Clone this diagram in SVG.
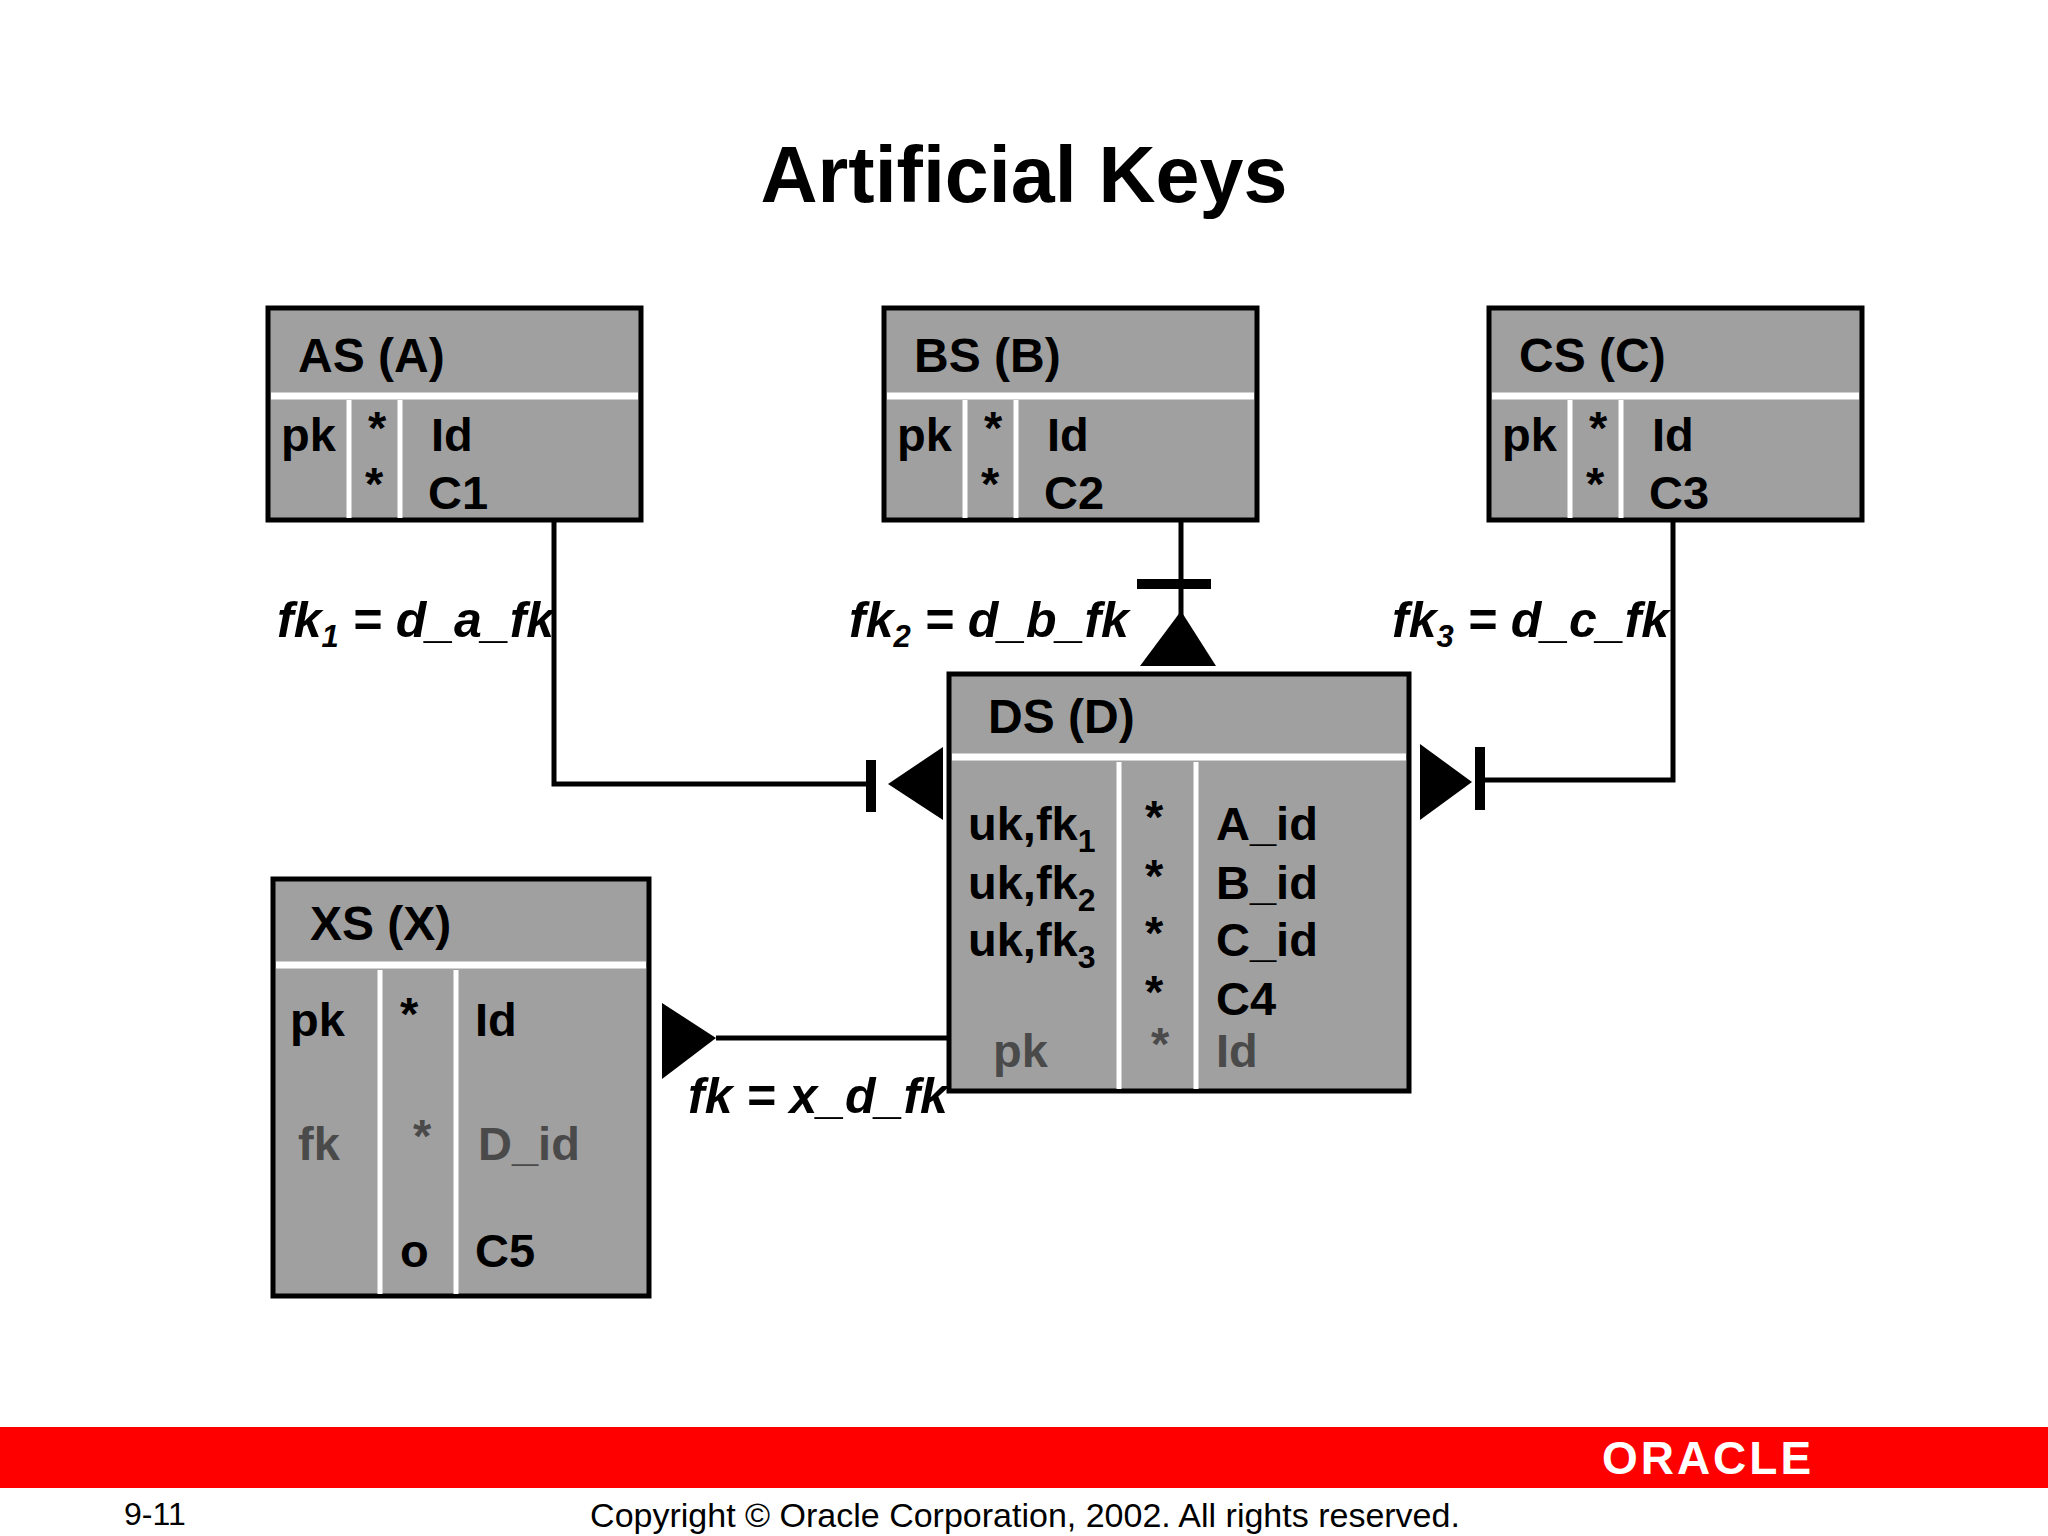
<svg xmlns="http://www.w3.org/2000/svg" width="2048" height="1536" viewBox="0 0 2048 1536">
<style>
text{font-family:"Liberation Sans",Arial,sans-serif;font-weight:bold;fill:#000}
.box{fill:#a0a0a0;stroke:#000;stroke-width:5}
.w{stroke:#fff;stroke-width:7}
.wv{stroke:#fff;stroke-width:5}
.h{font-size:48px}
.t{font-size:47px}
.g{fill:#4a4a4a}
.lbl{font-size:50px;font-style:italic}
.ln{stroke:#000;stroke-width:5;fill:none}
.bar{stroke:#000;stroke-width:10}
</style>
<rect width="2048" height="1536" fill="#fff"/>
<text x="1024" y="202" text-anchor="middle" font-size="79">Artificial Keys</text>

<g id="AS">
<rect class="box" x="268" y="308" width="373" height="212"/>
<line class="w" x1="271" y1="396" x2="638" y2="396"/>
<line class="wv" x1="349" y1="400" x2="349" y2="518"/>
<line class="wv" x1="400" y1="400" x2="400" y2="518"/>
<text class="h" x="298" y="372">AS (A)</text>
<text class="t" x="281" y="451">pk</text><text class="t" x="368" y="444">*</text><text class="t" x="431" y="451">Id</text>
<text class="t" x="365" y="500">*</text><text class="t" x="428" y="509">C1</text>
</g>
<g id="BS">
<rect class="box" x="884" y="308" width="373" height="212"/>
<line class="w" x1="887" y1="396" x2="1254" y2="396"/>
<line class="wv" x1="965" y1="400" x2="965" y2="518"/>
<line class="wv" x1="1016" y1="400" x2="1016" y2="518"/>
<text class="h" x="914" y="372">BS (B)</text>
<text class="t" x="897" y="451">pk</text><text class="t" x="984" y="444">*</text><text class="t" x="1047" y="451">Id</text>
<text class="t" x="981" y="500">*</text><text class="t" x="1044" y="509">C2</text>
</g>
<g id="CS">
<rect class="box" x="1489" y="308" width="373" height="212"/>
<line class="w" x1="1492" y1="396" x2="1859" y2="396"/>
<line class="wv" x1="1570" y1="400" x2="1570" y2="518"/>
<line class="wv" x1="1621" y1="400" x2="1621" y2="518"/>
<text class="h" x="1519" y="372">CS (C)</text>
<text class="t" x="1502" y="451">pk</text><text class="t" x="1589" y="444">*</text><text class="t" x="1652" y="451">Id</text>
<text class="t" x="1586" y="500">*</text><text class="t" x="1649" y="509">C3</text>
</g>
<g id="DS">
<rect class="box" x="949" y="674" width="460" height="417"/>
<line class="w" x1="952" y1="757" x2="1406" y2="757"/>
<line class="wv" x1="1119" y1="762" x2="1119" y2="1089"/>
<line class="wv" x1="1196" y1="762" x2="1196" y2="1089"/>
<text class="h" x="988" y="733">DS (D)</text>
<text class="t" x="968" y="840">uk,fk<tspan font-size="32" dy="12">1</tspan></text>
<text class="t" x="968" y="899">uk,fk<tspan font-size="32" dy="12">2</tspan></text>
<text class="t" x="968" y="956">uk,fk<tspan font-size="32" dy="12">3</tspan></text>
<text class="t" x="1145" y="833">*</text><text class="t" x="1145" y="892">*</text><text class="t" x="1145" y="949">*</text><text class="t" x="1145" y="1008">*</text>
<text class="t g" x="1151" y="1060">*</text>
<text class="t" x="1216" y="840">A_id</text><text class="t" x="1216" y="899">B_id</text><text class="t" x="1216" y="956">C_id</text><text class="t" x="1216" y="1015">C4</text>
<text class="t g" x="993" y="1067">pk</text><text class="t g" x="1216" y="1067">Id</text>
</g>
<g id="XS">
<rect class="box" x="273" y="879" width="376" height="417"/>
<line class="w" x1="276" y1="965" x2="646" y2="965"/>
<line class="wv" x1="380" y1="970" x2="380" y2="1294"/>
<line class="wv" x1="456" y1="970" x2="456" y2="1294"/>
<text class="h" x="310" y="940">XS (X)</text>
<text class="t" x="290" y="1036">pk</text><text class="t" x="400" y="1030">*</text><text class="t" x="475" y="1036">Id</text>
<text class="t g" x="298" y="1160">fk</text><text class="t g" x="413" y="1152">*</text><text class="t g" x="478" y="1160">D_id</text>
<text class="t" x="400" y="1267" font-size="36">o</text><text class="t" x="475" y="1267">C5</text>
</g>

<g id="connectors">
<polyline class="ln" points="554,520 554,784 871,784"/>
<line class="bar" x1="871" y1="760" x2="871" y2="812"/>
<polygon points="888,784 943,747 943,820"/>
<line class="ln" x1="1181" y1="520" x2="1181" y2="620"/>
<line class="bar" x1="1137" y1="584" x2="1211" y2="584"/>
<polygon points="1181,611 1140,666 1216,666"/>
<polyline class="ln" points="1673,520 1673,780 1480,780"/>
<line class="bar" x1="1480" y1="747" x2="1480" y2="810"/>
<polygon points="1472,782 1420,744 1420,820"/>
<line class="ln" x1="949" y1="1038" x2="716" y2="1038"/>
<polygon points="716,1038 662,1003 662,1079"/>
<text class="lbl" x="277" y="637">fk<tspan font-size="31" dy="10">1</tspan><tspan dy="-10"> = d_a_fk</tspan></text>
<text class="lbl" x="849" y="637">fk<tspan font-size="31" dy="10">2</tspan><tspan dy="-10"> = d_b_fk</tspan></text>
<text class="lbl" x="1392" y="637">fk<tspan font-size="31" dy="10">3</tspan><tspan dy="-10"> = d_c_fk</tspan></text>
<text class="lbl" x="688" y="1113">fk = x_d_fk</text>
</g>

<rect x="0" y="1427" width="2048" height="61" fill="#ff0000"/>
<text x="1708" y="1474" text-anchor="middle" font-size="46" style="fill:#fff;letter-spacing:3px">ORACLE</text>
<text x="124" y="1525" font-size="32" style="font-weight:normal">9-11</text>
<text x="1025" y="1527" text-anchor="middle" font-size="34" style="font-weight:normal">Copyright © Oracle Corporation, 2002. All rights reserved.</text>
</svg>
